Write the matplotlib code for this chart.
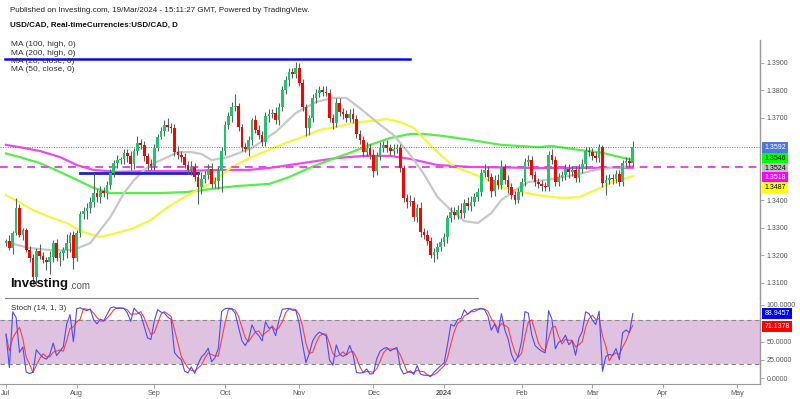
import numpy as np
import pandas as pd
import matplotlib
matplotlib.use("Agg")
import matplotlib.pyplot as plt
from matplotlib.lines import Line2D

plt.rcParams['font.family'] = ['Liberation Sans', 'DejaVu Sans']

# USD/CAD daily closes, one list per month (business days, 3 Jul 2023 - 19 Mar 2024)
first_open = 1.3245
closes_jul = [1.3250, 1.3228, 1.3280, 1.3372, 1.3275, 1.3290, 1.3220, 1.3190, 1.3120, 1.3215, 1.3197,
              1.3182, 1.3175, 1.3195, 1.3244, 1.3190, 1.3208, 1.3220, 1.3246, 1.3273, 1.3190]
closes_aug = [1.3281, 1.3350, 1.3362, 1.3370, 1.3395, 1.3425, 1.3410, 1.3432, 1.3425, 1.3455, 1.3500, 1.3537,
              1.3545, 1.3548, 1.3572, 1.3560, 1.3530, 1.3580, 1.3607, 1.3600, 1.3562, 1.3530, 1.3525]
closes_sep = [1.3590, 1.3631, 1.3650, 1.3673, 1.3667, 1.3661, 1.3576, 1.3565, 1.3558, 1.3528, 1.3510,
              1.3522, 1.3484, 1.3448, 1.3478, 1.3492, 1.3515, 1.3458, 1.3470, 1.3505, 1.3578]
closes_oct = [1.3673, 1.3705, 1.3738, 1.3742, 1.3666, 1.3593, 1.3585, 1.3620, 1.3690, 1.3655, 1.3638,
              1.3612, 1.3705, 1.3715, 1.3718, 1.3692, 1.3740, 1.3800, 1.3837, 1.3866, 1.3858, 1.3880]
closes_nov = [1.3826, 1.3738, 1.3662, 1.3700, 1.3770, 1.3790, 1.3802, 1.3795, 1.3788, 1.3700, 1.3680,
              1.3755, 1.3720, 1.3712, 1.3700, 1.3715, 1.3695, 1.3640, 1.3620, 1.3577, 1.3590, 1.3565]
closes_dec = [1.3505, 1.3560, 1.3590, 1.3600, 1.3590, 1.3578, 1.3585, 1.3590, 1.3517, 1.3408, 1.3393,
              1.3398, 1.3340, 1.3372, 1.3285, 1.3275, 1.3252, 1.3200, 1.3210, 1.3230, 1.3248]
closes_jan = [1.3265, 1.3335, 1.3357, 1.3348, 1.3366, 1.3352, 1.3390, 1.3380, 1.3395, 1.3412, 1.3430, 1.3500,
              1.3510, 1.3485, 1.3432, 1.3475, 1.3455, 1.3520, 1.3475, 1.3448, 1.3420, 1.3401, 1.3430]
closes_feb = [1.3466, 1.3538, 1.3545, 1.3492, 1.3466, 1.3458, 1.3452, 1.3448, 1.3565, 1.3546, 1.3466,
              1.3484, 1.3490, 1.3515, 1.3502, 1.3510, 1.3480, 1.3515, 1.3530, 1.3578, 1.3574]
closes_mar = [1.3560, 1.3555, 1.3592, 1.3462, 1.3475, 1.3480, 1.3478, 1.3495, 1.3467, 1.3535, 1.3542,
              1.3535, 1.3592]

# wick lengths in pips above / below the body
up_jul = [10, 25, 8, 35, 15, 10, 10, 12, 15, 10, 25, 15, 12, 20, 10, 15, 8, 10, 30, 10, 15]
dn_jul = [10, 8, 25, 8, 10, 20, 10, 15, 25, 27, 10, 12, 30, 45, 20, 12, 30, 25, 30, 35, 40]
up_aug = [10, 10, 15, 20, 15, 75, 15, 20, 15, 15, 15, 10, 20, 10, 15, 15, 20, 10, 25, 15, 15, 10, 20]
dn_aug = [10, 15, 20, 30, 15, 20, 15, 20, 15, 20, 15, 15, 20, 15, 15, 20, 20, 15, 15, 15, 20, 20, 15]
up_sep = [15, 10, 15, 20, 25, 15, 15, 20, 15, 15, 15, 20, 15, 15, 25, 15, 15, 20, 15, 15, 15]
dn_sep = [15, 10, 10, 15, 15, 15, 15, 15, 20, 10, 15, 20, 15, 60, 25, 15, 15, 15, 15, 30, 75]
up_oct = [15, 15, 20, 45, 10, 10, 15, 15, 10, 20, 20, 15, 15, 15, 15, 20, 15, 15, 15, 15, 15, 22]
dn_oct = [15, 15, 20, 15, 15, 15, 10, 25, 20, 10, 15, 15, 15, 20, 15, 15, 20, 15, 15, 20, 15, 15]
up_nov = [20, 15, 10, 10, 15, 15, 15, 15, 20, 15, 15, 15, 15, 15, 15, 15, 20, 15, 15, 15, 20, 15]
dn_nov = [10, 15, 30, 25, 15, 15, 15, 15, 10, 15, 20, 15, 15, 15, 15, 15, 15, 15, 15, 20, 15, 15]
up_dec = [20, 15, 20, 15, 20, 15, 20, 15, 15, 10, 15, 20, 15, 15, 20, 15, 15, 15, 15, 15, 15]
dn_dec = [20, 15, 15, 15, 15, 15, 15, 15, 15, 15, 20, 15, 15, 20, 20, 15, 15, 10, 25, 25, 15]
up_jan = [15, 10, 20, 20, 15, 25, 15, 20, 20, 15, 15, 15, 20, 15, 15, 15, 20, 25, 10, 15, 15, 15, 15]
dn_jan = [15, 20, 15, 15, 15, 15, 15, 15, 20, 15, 15, 15, 15, 15, 20, 15, 15, 15, 15, 20, 15, 15, 10]
up_feb = [15, 15, 20, 15, 15, 15, 15, 15, 15, 20, 15, 15, 15, 15, 15, 15, 15, 15, 20, 15, 15]
dn_feb = [15, 15, 15, 15, 15, 15, 20, 15, 15, 15, 15, 15, 15, 15, 20, 15, 15, 15, 15, 15, 15]
up_mar = [15, 15, 13, 10, 15, 15, 15, 15, 15, 10, 15, 15, 23]
dn_mar = [15, 15, 15, 15, 42, 15, 20, 15, 15, 15, 15, 15, 10]

# moving averages read at selected bars (bar number, value)
ma20_x = [0, 7, 13, 20, 25, 28, 31, 35, 38, 41, 44, 48, 51, 55, 58, 61, 66, 73, 80, 86, 92, 97, 101, 105,
          110, 115, 120, 124, 128, 132, 136, 140, 144, 147, 152, 155, 160, 165, 170, 175, 180, 186]
ma20_y = [1.3248, 1.3226, 1.3219, 1.3219, 1.3244, 1.3292, 1.3339, 1.3426, 1.3473, 1.3510, 1.3535, 1.3557,
          1.3575, 1.3575, 1.3568, 1.3546, 1.3557, 1.3590, 1.3648, 1.3717, 1.3757, 1.3772, 1.3772, 1.3735,
          1.3684, 1.3637, 1.3564, 1.3495, 1.3412, 1.3364, 1.3324, 1.3317, 1.3353, 1.3401, 1.3444, 1.3466,
          1.3473, 1.3484, 1.3495, 1.3510, 1.3517, 1.3524]
ma50_x = [0, 4, 8, 13, 18, 23, 28, 33, 38, 43, 48, 54, 60, 64, 67, 73, 78, 83, 88, 93, 98, 103, 108, 113,
          117, 121, 125, 129, 133, 138, 143, 147, 153, 158, 165, 170, 175, 180, 186]
ma50_y = [1.3418, 1.3393, 1.3364, 1.3339, 1.3317, 1.3284, 1.3266, 1.3281, 1.3299, 1.3328, 1.3375, 1.3419,
          1.3456, 1.3492, 1.3521, 1.3557, 1.3583, 1.3608, 1.3630, 1.3655, 1.3666, 1.3681, 1.3688, 1.3695,
          1.3684, 1.3663, 1.3612, 1.3564, 1.3521, 1.3499, 1.3473, 1.3448, 1.3430, 1.3418, 1.3408, 1.3411,
          1.3437, 1.3466, 1.3487]
ma100_x = [0, 4, 10, 16, 21, 26, 31, 38, 46, 54, 63, 69, 78, 84, 90, 96, 102, 108, 114, 120, 124, 130, 138,
           147, 158, 162, 170, 177, 186]
ma100_y = [1.3570, 1.3557, 1.3535, 1.3503, 1.3474, 1.3445, 1.3426, 1.3426, 1.3426, 1.3430, 1.3444, 1.3452,
           1.3459, 1.3484, 1.3517, 1.3546, 1.3572, 1.3601, 1.3626, 1.3641, 1.3641, 1.3633, 1.3619, 1.3601,
           1.3593, 1.3597, 1.3583, 1.3572, 1.3546]
ma200_x = [0, 4, 10, 16, 21, 26, 33, 43, 53, 63, 72, 78, 88, 98, 106, 114, 120, 128, 138, 158, 186]
ma200_y = [1.3601, 1.3593, 1.3579, 1.3557, 1.3528, 1.3510, 1.3503, 1.3506, 1.3506, 1.3510, 1.3510, 1.3517,
           1.3535, 1.3553, 1.3561, 1.3561, 1.3550, 1.3528, 1.3521, 1.3517, 1.3518]

# drawn levels
resistance = 1.3913
resistance_bars = [-0.3, 120]
support = 1.3498
support_bars = [22, 57]
pink_level = 1.3519

# stochastic readouts at the right edge
stoch_k_last = 88.9457
stoch_d_last = 71.1378

closes = np.array(closes_jul + closes_aug + closes_sep + closes_oct + closes_nov +
                  closes_dec + closes_jan + closes_feb + closes_mar)
wick_up = np.array(up_jul + up_aug + up_sep + up_oct + up_nov + up_dec + up_jan + up_feb + up_mar) / 1e4
wick_dn = np.array(dn_jul + dn_aug + dn_sep + dn_oct + dn_nov + dn_dec + dn_jan + dn_feb + dn_mar) / 1e4
opens = np.r_[first_open, closes[:-1]]
highs = np.maximum(opens, closes) + wick_up
lows = np.minimum(opens, closes) - wick_dn
n = len(closes)
x = np.arange(n)
dates = pd.bdate_range("2023-07-03", "2024-05-31")

# stochastic (14, 1, 3)
hh = pd.Series(highs).rolling(14, min_periods=1).max()
ll = pd.Series(lows).rolling(14, min_periods=1).min()
stoch_k = 100 * (pd.Series(closes) - ll) / (hh - ll)
stoch_d = stoch_k.rolling(3, min_periods=1).mean()

# colours
up_col = '#1fc46c'
dn_col = '#ff0000'
wick_col = '#4d6658'
grey = '#555555'

W, H = 800, 399
fig = plt.figure(figsize=(8, 3.99), dpi=100)
fig.patch.set_facecolor('white')

def frac(px_left, px_top, px_right, px_bottom):
    return [px_left / W, 1 - px_bottom / H, (px_right - px_left) / W, (px_bottom - px_top) / H]

RIGHT = 760
ax = fig.add_axes(frac(0, 40, RIGHT, 298))
axs = fig.add_axes(frac(0, 298, RIGHT, 384))

xlim = (-1.78, (RIGHT - 6) / 3.37)
for a in (ax, axs):
    a.set_xlim(*xlim)
    a.set_facecolor('none')
    for s in ('top', 'left'):
        a.spines[s].set_visible(False)
    a.spines['right'].set_color('#9a9a9a')
    a.spines['right'].set_linewidth(1.0)
    a.yaxis.tick_right()
    a.tick_params(axis='y', colors='#9a9a9a', labelcolor=grey, labelsize=5, length=3, width=0.6, pad=2)

ax.set_ylim(1.30444, 1.39825)
ax.spines['bottom'].set_visible(False)
ax.set_xticks([])
ax.set_yticks([1.31, 1.32, 1.33, 1.34, 1.37, 1.38, 1.39])
ax.set_yticklabels([f"{v:.4f}" for v in ax.get_yticks()])

# moving averages
ax.plot(ma200_x, ma200_y, color='#ea4cea', lw=1.6, zorder=2)
ax.plot(ma100_x, ma100_y, color='#55ee4a', lw=1.6, zorder=2)
ax.plot(ma50_x, ma50_y, color='#f6f640', lw=1.6, zorder=2)
ax.plot(ma20_x, ma20_y, color='#c8c8c8', lw=1.6, zorder=2)

# levels
ax.axhline(pink_level, color='#f040f0', lw=1.4, ls=(0, (4, 3)), zorder=2.5)
ax.axhline(closes[-1], color='#4f6fe0', lw=0.7, ls=(0, (1, 1.5)), zorder=2.5)
ax.plot(resistance_bars, [resistance] * 2, color='#0a0aee', lw=1.8, zorder=3, clip_on=False)
ax.plot(support_bars, [support] * 2, color='#2020c8', lw=2.0, zorder=3)

# candles
is_up = closes >= opens
ax.vlines(x, lows, highs, color=wick_col, lw=0.8, zorder=4)
body = np.maximum(np.abs(closes - opens), 0.00012)
ax.bar(x, body, bottom=np.minimum(opens, closes), width=0.8,
       color=np.where(is_up, up_col, dn_col), linewidth=0, zorder=5)

# right-hand value boxes
def value_box(a, y, txt, fc, tc):
    a.text(1.006, y, txt, transform=a.get_yaxis_transform(), fontsize=5, color=tc,
           va='center', ha='left', clip_on=False, zorder=10,
           bbox=dict(boxstyle='square,pad=0.3', fc=fc, ec='none'))

value_box(ax, 1.3592, f"{closes[-1]:.4f}", '#4a78e0', 'white')
value_box(ax, 1.3550, f"{ma100_y[-1]:.4f}", '#00ff00', 'black')
value_box(ax, 1.3516, f"{ma20_y[-1]:.4f}", '#c0c0c0', 'black')
value_box(ax, 1.3483, f"{ma200_y[-1]:.4f}", '#ff00ff', 'white')
value_box(ax, 1.3447, f"{ma50_y[-1]:.4f}", '#ffff00', 'black')

# stochastic pane
axs.set_ylim(-7.9, 109.55)
axs.axhspan(20, 80, color='#dfc1e0', zorder=0, lw=0)
axs.axhline(80, color='#8a8a8a', lw=0.8, ls=(0, (4, 3)), zorder=1)
axs.axhline(20, color='#8a8a8a', lw=0.8, ls=(0, (4, 3)), zorder=1)
axs.plot(x, stoch_d, color='#ff4040', lw=0.8, zorder=3)
axs.plot(x, stoch_k, color='#4a4aff', lw=0.8, zorder=4)
axs.set_yticks([0, 25, 50, 100])
axs.set_yticklabels([f"{v:.4f}" for v in axs.get_yticks()])
value_box(axs, stoch_k_last, f"{stoch_k_last:.4f}", '#0000ff', 'white')
value_box(axs, stoch_d_last, f"{stoch_d_last:.4f}", '#ff0000', 'white')
axs.text(11 / RIGHT, 0.88, "Stoch (14, 1, 3)", transform=axs.transAxes, fontsize=5.8, color='#333333',
         va='center', ha='left')

# month ticks
starts = [i for i in range(len(dates)) if i == 0 or dates[i].month != dates[i - 1].month]
labels = ['2024' if dates[i].month == 1 else dates[i].strftime('%b') for i in starts]
axs.set_xticks(starts)
axs.set_xticklabels(labels)
axs.spines['bottom'].set_color('#9a9a9a')
axs.tick_params(axis='x', colors='#9a9a9a', labelcolor=grey, labelsize=5.2, length=3, width=0.6, pad=1)
for t in axs.get_xticklabels():
    if t.get_text() == '2024':
        t.set_fontweight('bold')

# pane separator
fig.add_artist(Line2D([5 / W, 478 / W], [1 - 298 / H] * 2, color='#888888', lw=0.8))

# header and legend
fig.text(10 / W, 1 - 11 / H, "Published on Investing.com, 19/Mar/2024 - 15:11:27 GMT, Powered by TradingView.",
         fontsize=5.8, color='#222222', va='center')
fig.text(10 / W, 1 - 25 / H, "USD/CAD, Real-timeCurrencies:USD/CAD, D", fontsize=5.8, fontweight='bold',
         color='#111111', va='center')
legend = ["MA (100, high, 0)", "MA (200, high, 0)", "MA (20, close, 0)", "MA (50, close, 0)"]
for i, t in enumerate(legend):
    fig.text(11 / W, 1 - (45 + 8.3 * i) / H, t, fontsize=6, color='#333333', va='center')

# watermark
fig.text(10 / W, 1 - 284 / H, "Investing", fontsize=9.5, fontweight='bold', color='#111111', va='center')
fig.text(69 / W, 1 - 286 / H, ".com", fontsize=7, color='#555555', va='center')

fig.savefig('out.png', dpi=100, facecolor='white')
